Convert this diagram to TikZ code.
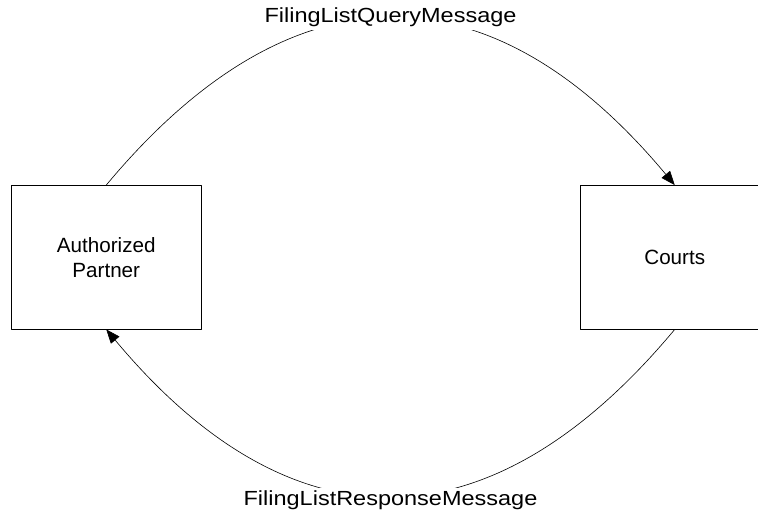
\documentclass[tikz,border=0pt]{standalone}
\usepackage{fontspec}
\setmainfont{Liberation Sans}
\newfontfamily\msgfont{Liberation Sans}[FakeStretch=1.15]
\usetikzlibrary{arrows.meta}
\begin{document}
\begin{tikzpicture}[x=1bp,y=1bp,line join=round,line cap=round,
	box/.style={draw,line width=0.8bp,minimum width=189.5bp,minimum height=143.5bp,align=center,font=\fontsize{20.7}{25}\selectfont},
	msg/.style={fill=white,inner sep=3bp,font=\msgfont\fontsize{20.5}{24}\selectfont},
	flow/.style={line width=0.6bp,-{Triangle[length=14bp,width=11bp]}}]
	\useasboundingbox (0,0) rectangle (758,513);
	%the two parties
	\node[box] (partner) at (106.25,255.75) {Authorized\\Partner};
	\node[box] (courts) at (674.75,255.75) {Courts};
	%the two messages
	\draw[flow] (partner.north) .. controls +(185,222) and +(-185,222) .. (courts.north) node[msg,pos=0.5,yshift=1bp] (query) {FilingListQueryMessage};
	\draw[flow] (courts.south) .. controls +(-185,-222) and +(185,-222) .. (partner.south) node[msg,pos=0.5,yshift=-4.5bp] (response) {FilingListResponseMessage};
\end{tikzpicture}
\end{document}
